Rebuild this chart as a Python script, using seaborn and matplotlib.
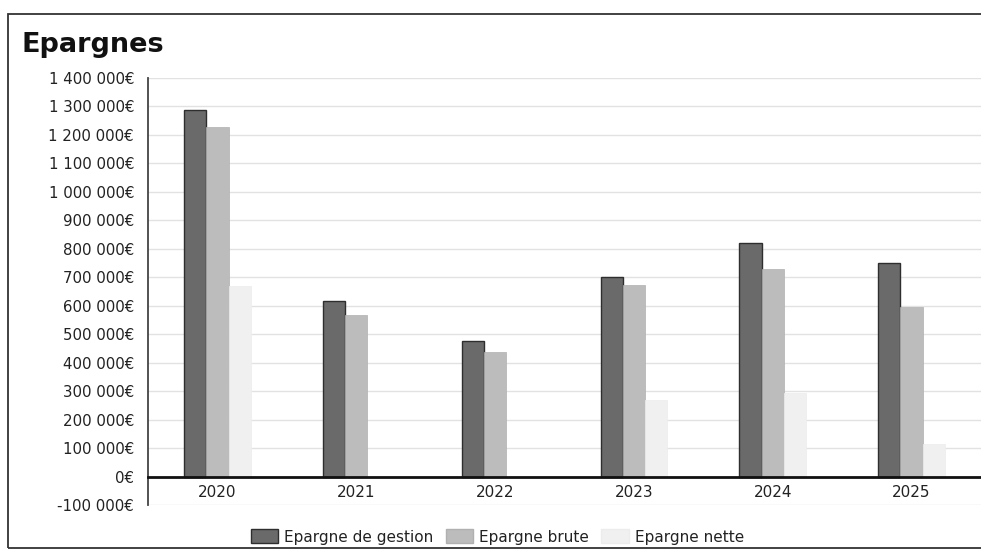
import matplotlib
matplotlib.use("Agg")
import matplotlib.pyplot as plt
import matplotlib.ticker as mticker
from matplotlib.patches import Rectangle, Patch
import seaborn as sns
import pandas as pd

years = ["2020", "2021", "2022", "2023", "2024", "2025"]
epargne_gestion = [1287000, 615000, 475000, 700000, 820000, 749000]
epargne_brute = [1228000, 566000, 436000, 672000, 728000, 594000]
epargne_nette = [668000, 0, 0, 270000, 295000, 113000]
series = ["Epargne de gestion", "Epargne brute", "Epargne nette"]
colors = ["#6a6a6a", "#bcbcbc", "#f0f0f0"]
edges = ["#2e2e2e", "#b0b0b0", "#ececec"]
yticks = list(range(-100000, 1400001, 100000))

rows = []
for s, vals in zip(series, [epargne_gestion, epargne_brute, epargne_nette]):
    for y, v in zip(years, vals):
        rows.append({"Année": y, "Série": s, "Valeur": v})
df = pd.DataFrame(rows)

sns.set_style("white")
plt.rcParams["font.family"] = ["DejaVu Sans"]

fig = plt.figure(figsize=(9.81, 5.55), dpi=100)
ax = fig.add_axes([148 / 981, 1 - 505 / 555, 1 - 148 / 981, (505 - 78) / 555])

sns.barplot(data=df, x="Année", y="Valeur", hue="Série", hue_order=series,
            order=years, palette=colors, width=0.48, gap=0, ax=ax,
            errorbar=None, legend=False, saturation=1)

n = len(years)
for i, patch in enumerate(ax.patches[: n * len(series)]):
    k = i // n
    patch.set_edgecolor(edges[k])
    patch.set_linewidth(1.0 if k == 0 else 0.5)

ax.set_xlim(-0.5, 5.5)
ax.set_ylim(-100000, 1400000)
ax.set_yticks(yticks)
ax.yaxis.set_major_formatter(mticker.FuncFormatter(
    lambda v, p: (f"{int(v):,}".replace(",", " ") + "€")))
ax.tick_params(axis="y", length=0, pad=10, labelsize=10.8, colors="#222222")
ax.tick_params(axis="x", length=0, pad=6, labelsize=11, colors="#222222")
ax.set_xlabel("")
ax.set_ylabel("")

ax.grid(axis="y", color="#e2e2e2", linewidth=1.0)
ax.set_axisbelow(True)
for s in ["top", "right"]:
    ax.spines[s].set_visible(False)
ax.spines["bottom"].set_position(("data", 0))
ax.spines["bottom"].set_color("#111111")
ax.spines["bottom"].set_linewidth(2.0)
ax.spines["bottom"].set_zorder(5)
ax.spines["left"].set_color("#444444")
ax.spines["left"].set_linewidth(1.3)

fig.text(22 / 981, 1 - 45 / 555, "Epargnes", fontsize=19.5, fontweight="bold",
         va="center", ha="left", color="#111111")

handles = [Patch(facecolor=c, edgecolor=e, linewidth=1.0) for c, e in zip(colors, edges)]
fig.legend(handles, series, loc="center", bbox_to_anchor=(0.507, 1 - 537 / 555),
           ncol=3, frameon=False, fontsize=11, handlelength=1.8, handleheight=1.0,
           handletextpad=0.4, columnspacing=0.8, labelcolor="#222222")

fig.patches.append(Rectangle((8 / 981, 1 - 548 / 555), 1.2, (548 - 14) / 555,
                             transform=fig.transFigure, fill=False,
                             edgecolor="#333333", linewidth=1.3))

fig.savefig("out.png", dpi=100)
